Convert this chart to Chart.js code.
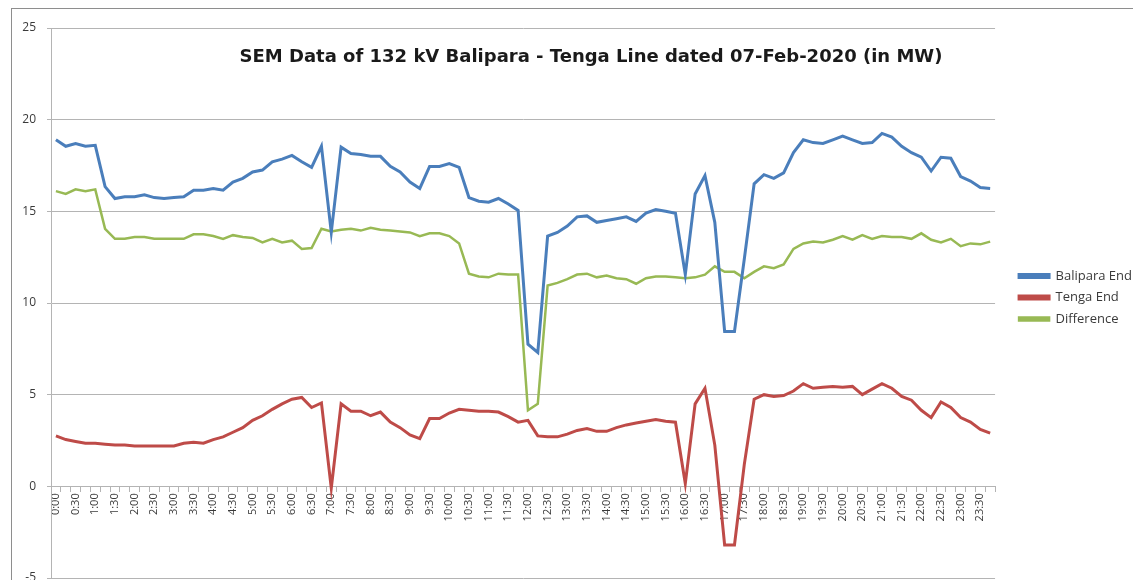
<!DOCTYPE html>
<html>
<head>
<meta charset="utf-8">
<script src="https://cdn.jsdelivr.net/npm/chart.js@4.4.1/dist/chart.umd.min.js"></script>
<style>
  html, body { margin: 0; padding: 0; background: #fff; }
  body { width: 1133px; height: 580px; overflow: hidden; position: relative; font-family: "Open Sans", sans-serif; }
  #frame { position: absolute; left: 11px; top: 8px; width: 1200px; height: 700px; border-left: 1px solid #8e8e8e; border-top: 1px solid #8e8e8e; }
  #wrap { position: absolute; left: 0; top: 0; }
  #title { position: absolute; left: 191px; top: 45px; width: 800px; text-align: center; font-family: "DejaVu Sans", sans-serif; font-weight: bold; font-size: 18px; color: #1a1a1a; white-space: nowrap; }
</style>
</head>
<body>
<div id="frame"></div>
<div id="wrap"><canvas id="semChart" width="1145" height="600"></canvas></div>
<div id="title">SEM Data of 132 kV Balipara - Tenga Line dated 07-Feb-2020 (in MW)</div>
<script>
// 15-minute blocks of the day
const timeLabels = [
  '0:00','0:15','0:30','0:45','1:00','1:15','1:30','1:45','2:00','2:15','2:30','2:45',
  '3:00','3:15','3:30','3:45','4:00','4:15','4:30','4:45','5:00','5:15','5:30','5:45',
  '6:00','6:15','6:30','6:45','7:00','7:15','7:30','7:45','8:00','8:15','8:30','8:45',
  '9:00','9:15','9:30','9:45','10:00','10:15','10:30','10:45','11:00','11:15','11:30','11:45',
  '12:00','12:15','12:30','12:45','13:00','13:15','13:30','13:45','14:00','14:15','14:30','14:45',
  '15:00','15:15','15:30','15:45','16:00','16:15','16:30','16:45','17:00','17:15','17:30','17:45',
  '18:00','18:15','18:30','18:45','19:00','19:15','19:30','19:45','20:00','20:15','20:30','20:45',
  '21:00','21:15','21:30','21:45','22:00','22:15','22:30','22:45','23:00','23:15','23:30','23:45'
];

const balipara = [
  18.9, 18.55, 18.7, 18.55, 18.6, 16.35, 15.7, 15.8, 15.8, 15.9, 15.75, 15.7,
  15.75, 15.8, 16.15, 16.15, 16.25, 16.15, 16.6, 16.8, 17.15, 17.25, 17.7, 17.85,
  18.05, 17.7, 17.4, 18.55, 13.85, 18.5, 18.15, 18.1, 18.0, 18.0, 17.45, 17.15,
  16.6, 16.25, 17.45, 17.45, 17.6, 17.4, 15.75, 15.55, 15.5, 15.7, 15.4, 15.05,
  7.75, 7.3, 13.65, 13.85, 14.2, 14.7, 14.75, 14.4, 14.5, 14.6, 14.7, 14.45,
  14.9, 15.1, 15.0, 14.9, 11.55, 15.95, 16.95, 14.4, 8.45, 8.45, 12.4, 16.5,
  17.0, 16.8, 17.1, 18.2, 18.9, 18.75, 18.7, 18.9, 19.1, 18.9, 18.7, 18.75,
  19.25, 19.05, 18.55, 18.2, 17.95, 17.2, 17.95, 17.9, 16.9, 16.65, 16.3, 16.25
];

const tenga = [
  2.75, 2.55, 2.45, 2.35, 2.35, 2.3, 2.25, 2.25, 2.2, 2.2, 2.2, 2.2,
  2.2, 2.35, 2.4, 2.35, 2.55, 2.7, 2.95, 3.2, 3.6, 3.85, 4.2, 4.5,
  4.75, 4.85, 4.3, 4.55, -0.1, 4.5, 4.1, 4.1, 3.85, 4.05, 3.5, 3.2,
  2.8, 2.6, 3.7, 3.7, 4.0, 4.2, 4.15, 4.1, 4.1, 4.05, 3.8, 3.5,
  3.6, 2.75, 2.7, 2.7, 2.85, 3.05, 3.15, 3.0, 3.0, 3.2, 3.35, 3.45,
  3.55, 3.65, 3.55, 3.5, 0.15, 4.5, 5.35, 2.25, -3.2, -3.2, 1.2, 4.75,
  5.0, 4.9, 4.95, 5.2, 5.6, 5.35, 5.4, 5.45, 5.4, 5.45, 5.0, 5.3,
  5.6, 5.35, 4.9, 4.7, 4.15, 3.75, 4.6, 4.3, 3.75, 3.5, 3.1, 2.9
];

const difference = [
  16.1, 15.95, 16.2, 16.1, 16.2, 14.05, 13.5, 13.5, 13.6, 13.6, 13.5, 13.5,
  13.5, 13.5, 13.75, 13.75, 13.65, 13.5, 13.7, 13.6, 13.55, 13.3, 13.5, 13.3,
  13.4, 12.95, 13.0, 14.05, 13.9, 14.0, 14.05, 13.95, 14.1, 14.0, 13.95, 13.9,
  13.85, 13.65, 13.8, 13.8, 13.65, 13.25, 11.6, 11.45, 11.4, 11.6, 11.55, 11.55,
  4.15, 4.5, 10.95, 11.1, 11.3, 11.55, 11.6, 11.4, 11.5, 11.35, 11.3, 11.05,
  11.35, 11.45, 11.45, 11.4, 11.35, 11.4, 11.55, 12.0, 11.7, 11.7, 11.35, 11.7,
  12.0, 11.9, 12.1, 12.95, 13.25, 13.35, 13.3, 13.45, 13.65, 13.45, 13.7, 13.5,
  13.65, 13.6, 13.6, 13.5, 13.8, 13.45, 13.3, 13.5, 13.1, 13.25, 13.2, 13.35
];

const yTicks = { min: -5, max: 25, step: 5 };

const gridColor = '#b4b4b4';
const textColor = '#3a3a3a';

const ctx = document.getElementById('semChart').getContext('2d');
const semChart = new Chart(ctx, {
  type: 'line',
  data: {
    labels: timeLabels,
    datasets: [
      { label: 'Balipara End', data: balipara, borderColor: '#4a7ebb', backgroundColor: '#4a7ebb', borderWidth: 3 },
      { label: 'Tenga End', data: tenga, borderColor: '#be4b48', backgroundColor: '#be4b48', borderWidth: 3 },
      { label: 'Difference', data: difference, borderColor: '#98b954', backgroundColor: '#98b954', borderWidth: 2.5 }
    ]
  },
  options: {
    responsive: false,
    animation: false,
    elements: { point: { radius: 0 }, line: { tension: 0 } },
    layout: { padding: { left: 0, top: 28, right: 3, bottom: 22 } },
    scales: {
      x: {
        position: { y: 0 },
        offset: true,
        grid: { drawOnChartArea: false, drawTicks: true, tickLength: 5, offset: true, color: gridColor },
        border: { color: gridColor },
        ticks: {
          autoSkip: false, minRotation: 90, maxRotation: 90, padding: 2,
          color: textColor, font: { family: 'Open Sans', size: 11 },
          callback: (v, i) => (i % 2 === 0 ? timeLabels[i] : '')
        }
      },
      y: {
        min: yTicks.min, max: yTicks.max,
        afterFit: (scale) => { scale.width = 51; },
        grid: { color: gridColor, tickLength: 4 },
        border: { color: gridColor },
        ticks: { stepSize: yTicks.step, padding: 11, color: textColor, font: { family: 'Open Sans', size: 12 } }
      },
      // empty gap between plot and legend
      gap: {
        type: 'linear', position: 'right', display: true,
        grid: { display: false }, border: { display: false }, ticks: { display: false },
        afterFit: (scale) => { scale.width = 15.5; }
      }
    },
    plugins: {
      legend: {
        position: 'right',
        align: 'start',
        // blank title only pushes the entries down to where the original sits
        title: { display: true, text: ' ', font: { size: 12 }, padding: { top: 218.6, bottom: 0 } },
        labels: {
          boxWidth: 30, boxHeight: 3, padding: 8.5,
          color: textColor, font: { family: 'Open Sans', size: 13 }
        }
      },
      tooltip: { enabled: false }
    }
  }
});
</script>
</body>
</html>
